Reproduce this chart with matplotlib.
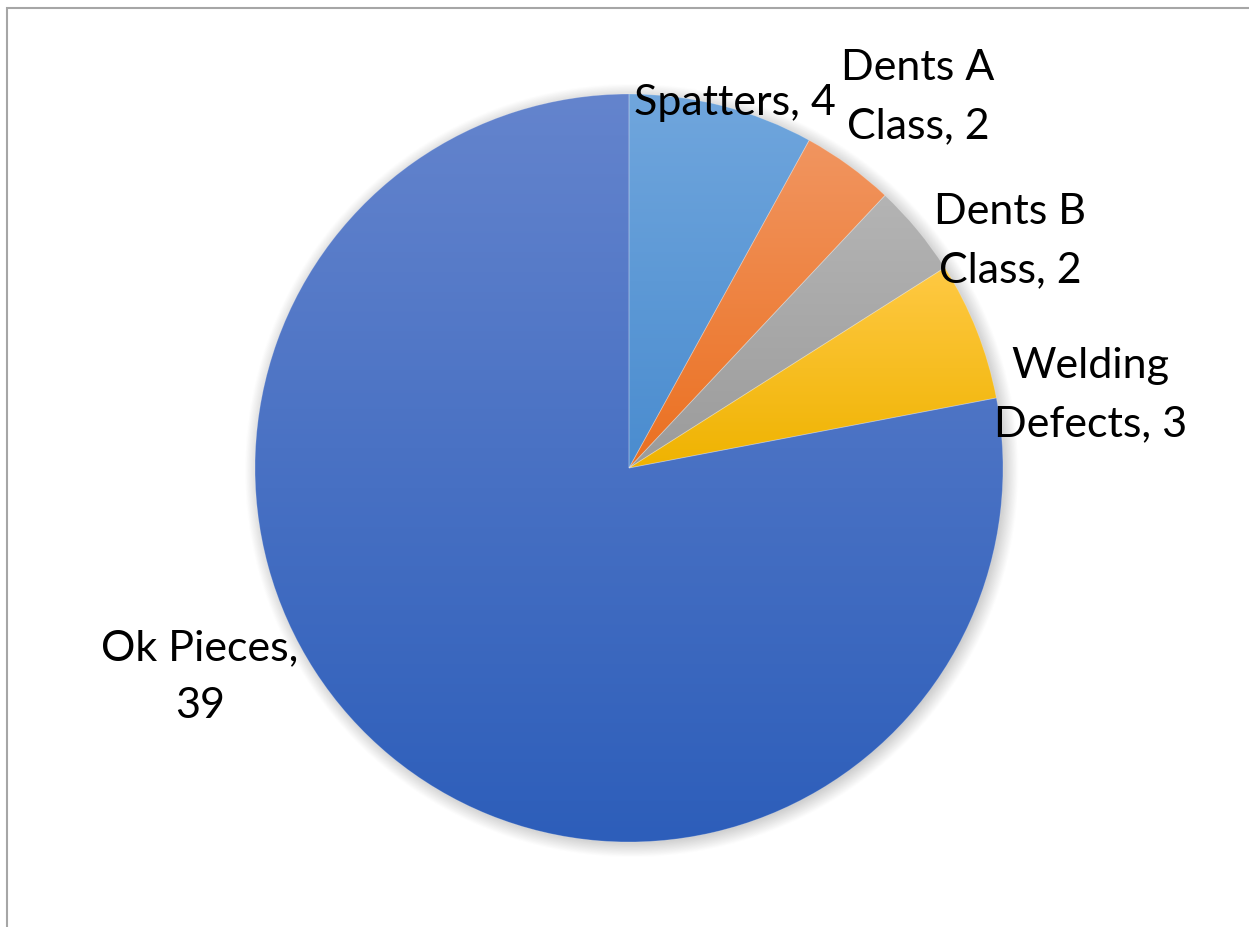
import numpy as np
import matplotlib
matplotlib.use("Agg")
import matplotlib.pyplot as plt
from matplotlib.colors import LinearSegmentedColormap
from matplotlib.patches import Rectangle

# Inspection results by category
categories = ["Spatters", "Dents A\nClass", "Dents B\nClass", "Welding\nDefects", "Ok Pieces,\n"]
counts = [4, 2, 2, 3, 39]

# top / bottom shades of each slice's vertical gradient
shades = [
    ("#70a6dd", "#4a8ccf"),
    ("#f19560", "#eb7020"),
    ("#b4b4b4", "#9b9b9b"),
    ("#ffc944", "#efb300"),
    ("#6484cd", "#2d5eba"),
]

W, H, DPI = 1249, 928, 100
cx, cy, R = 629, 469, 374  # pie centre (px from left/top) and radius in px

fig = plt.figure(figsize=(W / DPI, H / DPI), dpi=DPI)
ax = fig.add_axes([0, 0, 1, 1])

# chart area frame
fig.add_artist(Rectangle((7 / W, -0.01), 1.1, (H - 9) / H + 0.01, transform=fig.transFigure,
                         fill=False, edgecolor="#a6a6a6", linewidth=1.5))

# soft drop shadow behind the pie
n = 600
gx, gy = np.meshgrid(np.linspace(-1.15, 1.15, n), np.linspace(-1.15, 1.15, n))
d = np.hypot(gx - 0.006, gy + 0.008)
alpha = np.clip((1.035 - d) / 0.05, 0, 1) * 0.35
shadow = np.zeros((n, n, 4))
shadow[..., :3] = 0.35
shadow[..., 3] = alpha
ax.imshow(shadow, extent=[-1.15, 1.15, -1.15, 1.15], origin="lower", zorder=0,
          interpolation="bilinear")

wedges, _ = ax.pie(counts, startangle=90, counterclock=False, radius=1,
                   wedgeprops=dict(linewidth=0.6, edgecolor="none"),
                   center=(0, 0), frame=True)
ax.set_xlim(-cx / R, (W - cx) / R)
ax.set_ylim(-(H - cy) / R, cy / R)
ax.set_aspect("equal")
ax.axis("off")

grad = np.linspace(0, 1, 256).reshape(-1, 1)
for w, (top, bot) in zip(wedges, shades):
    w.set_facecolor("none")
    ext = w.get_path().get_extents()
    cmap = LinearSegmentedColormap.from_list("g", [bot, top])
    im = ax.imshow(grad, cmap=cmap, origin="lower", aspect="auto",
                   extent=[ext.x0, ext.x1, ext.y0, ext.y1], zorder=1,
                   interpolation="bilinear")
    im.set_clip_path(w)
    w.set_zorder(2)
    w.set_edgecolor((1, 1, 1, 0.25))

# data labels
label_pos = [(0.283, 0.979), (0.773, 0.995), (1.019, 0.610), (1.233, 0.198), (-1.147, -0.556)]
for name, val, (lx, ly) in zip(categories, counts, label_pos):
    if name.endswith("\n"):
        txt = f"{name}{val}"
    else:
        txt = f"{name}, {val}"
    ax.text(lx, ly, txt, ha="center", va="center", fontsize=31, family="Lato",
            color="black", linespacing=1.65, zorder=5)

fig.savefig("out.png", dpi=DPI, facecolor="white")
